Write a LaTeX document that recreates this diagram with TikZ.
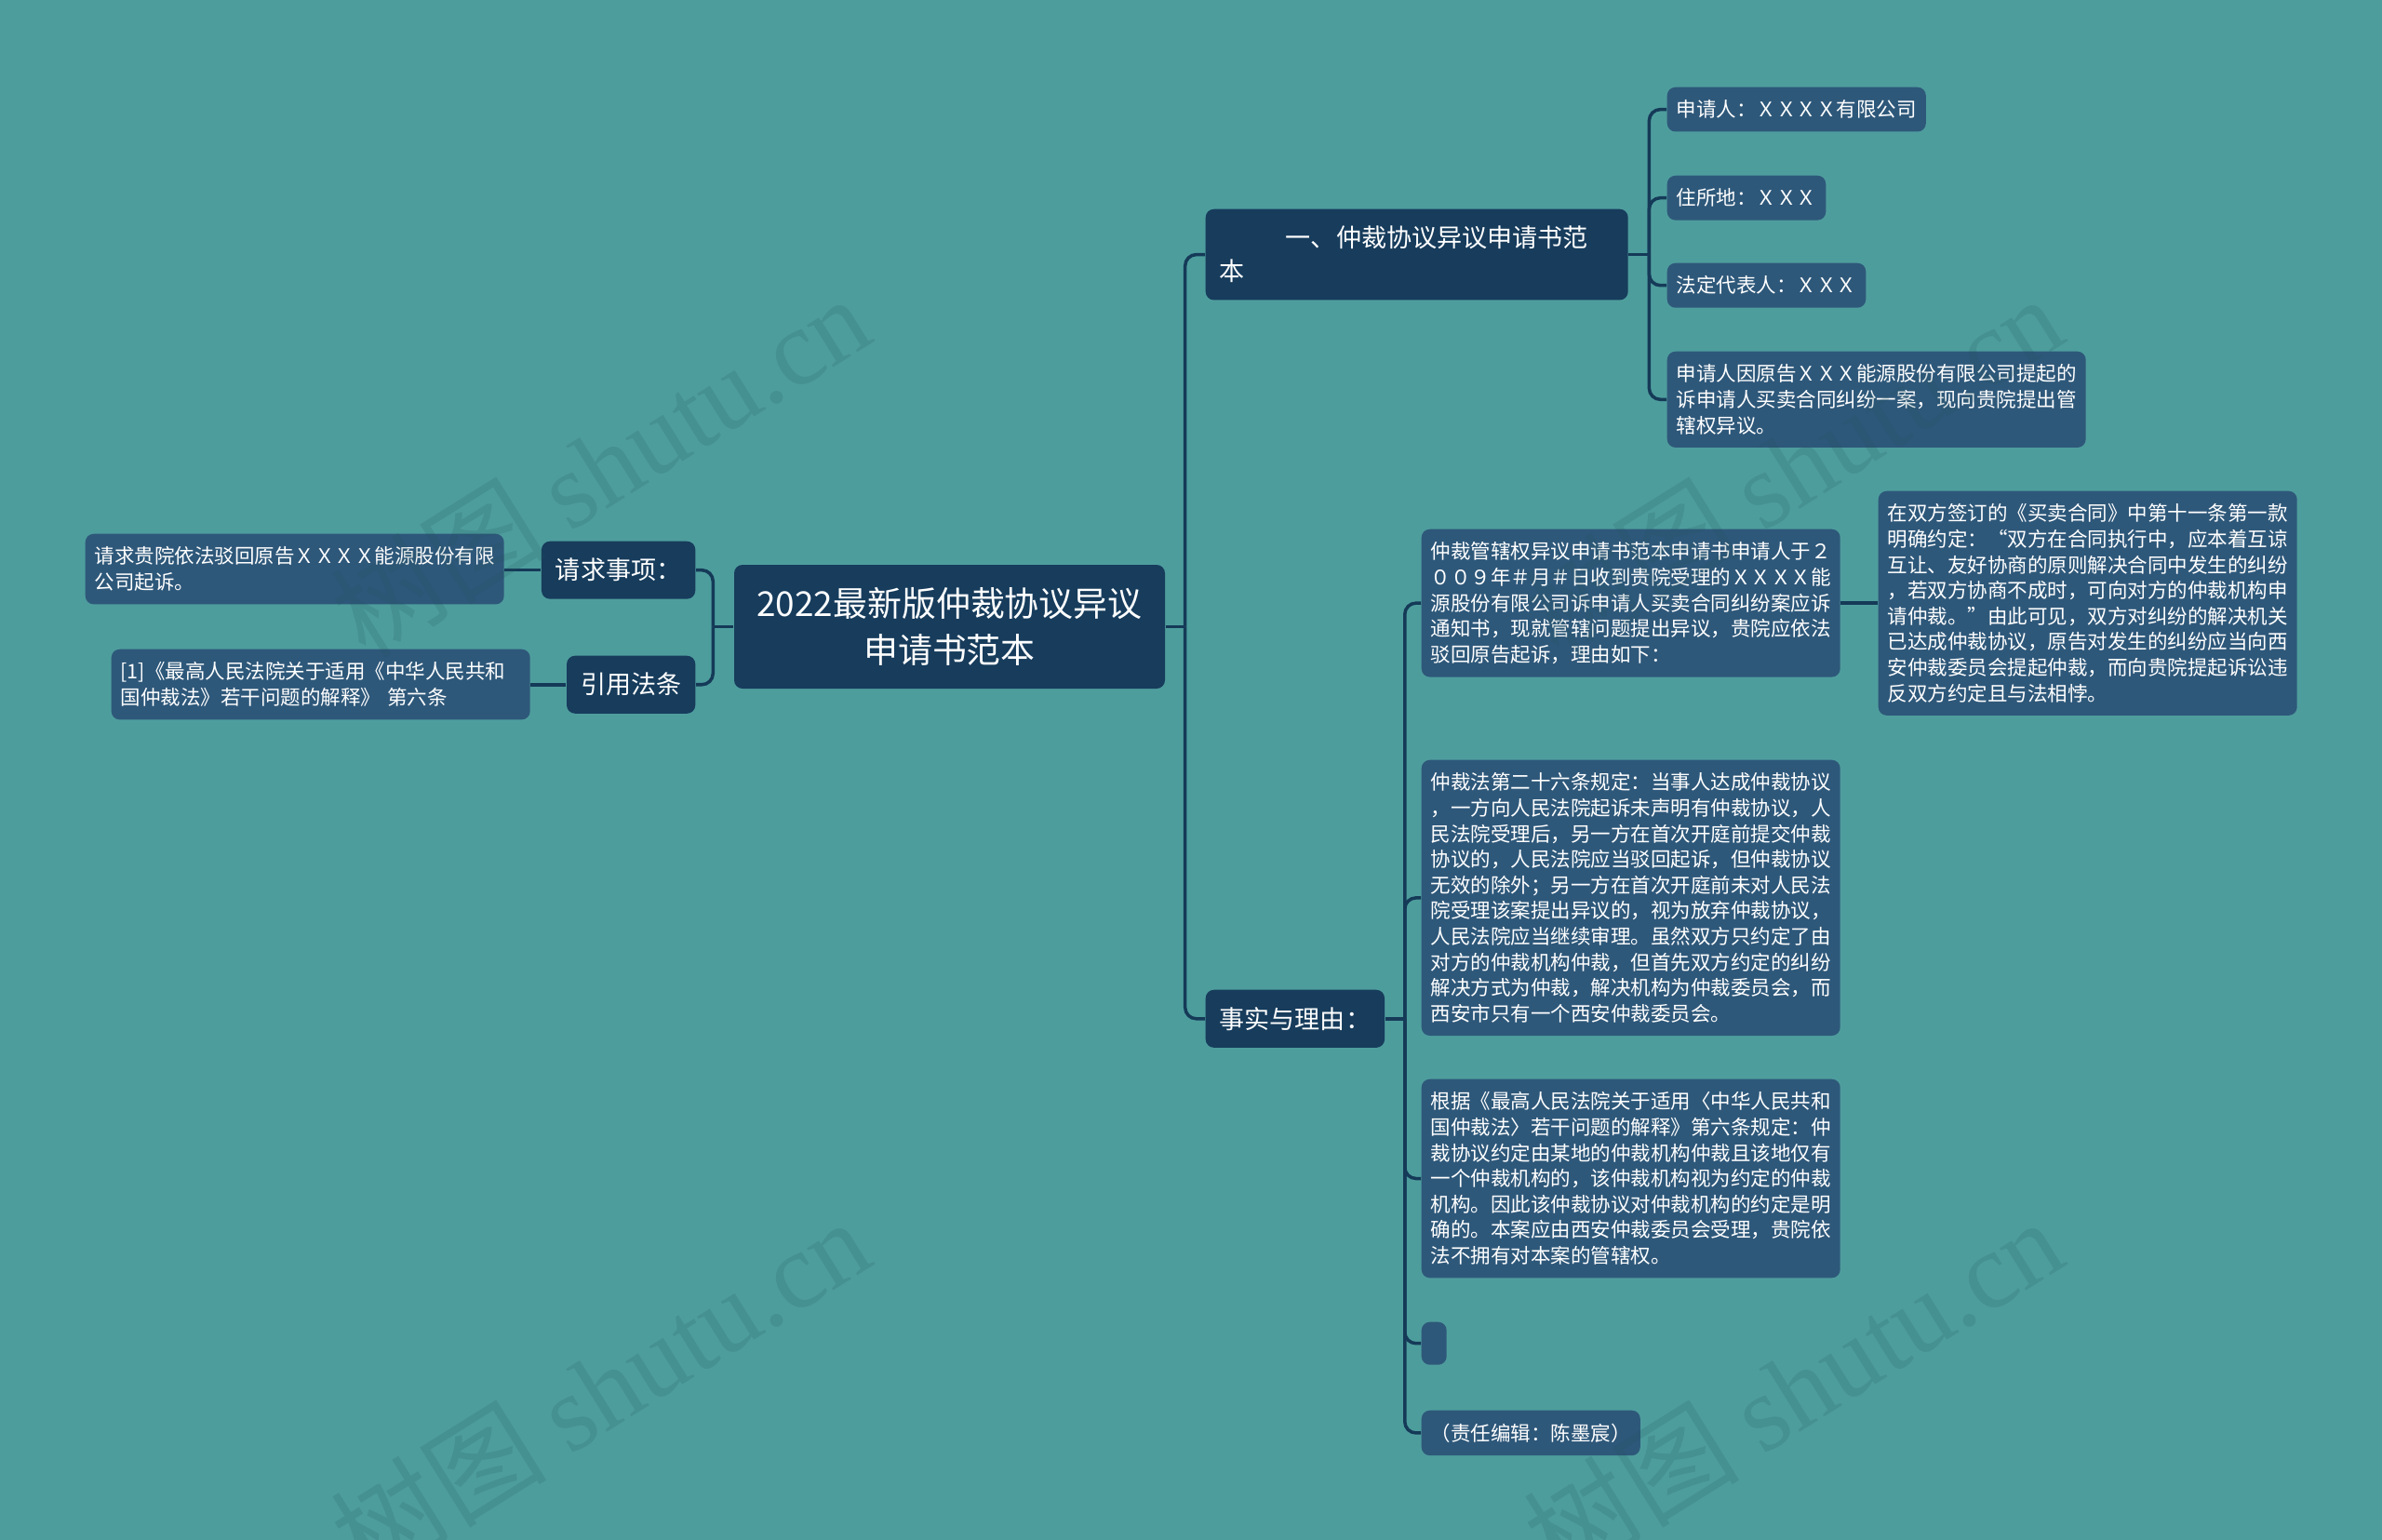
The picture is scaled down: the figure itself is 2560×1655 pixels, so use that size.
\documentclass[tikz,border=0pt]{standalone}
\usepackage{fontspec}
\setmainfont{Noto Sans CJK SC}
\newfontfamily\wmfont{Liberation Serif}
\usepackage{tikz}

\definecolor{bgc}{RGB}{78,157,157}
\definecolor{rootc}{RGB}{23,60,92}
\definecolor{leafc}{RGB}{46,88,122}
\definecolor{linec}{RGB}{21,58,88}
\definecolor{wmc}{RGB}{30,80,90}

\newcommand\rootfont{\fontsize{10.5pt}{14.4pt}\selectfont}
\newcommand\brfont{\fontsize{7.7pt}{10.2pt}\selectfont}
\newcommand\leaffont{\fontsize{6.12pt}{7.85pt}\selectfont}

\begin{document}
\begin{tikzpicture}[x=0.1mm, y=-0.1mm,
  box/.style={text=white, rounded corners=0.9mm, align=left},
  rootbox/.style={box, fill=rootc, font=\rootfont, align=center, minimum width=46.3mm, minimum height=13.3mm, inner sep=0pt},
  branch/.style={box, fill=rootc, font=\brfont, inner xsep=1.5mm, inner ysep=1.85mm, anchor=north west},
  leaf/.style={box, fill=leafc, font=\leaffont, inner xsep=1mm, inner ysep=1.4mm, anchor=north west},
  link/.style={draw=linec, line width=1pt, rounded corners=1.2mm},
  wmark/.style={rotate=32, text=wmc, text opacity=0.17, font=\fontsize{33pt}{33pt}\selectfont}]
	%Fondo
	\path[use as bounding box, fill=bgc] (0,0) rectangle (2560,1655);

	%Centro
	\node[rootbox] (root) at (1020.5,673.5) {2022最新版仲裁协议异议\\申请书范本};

	%Ramas
	\node[branch, text width=42.4mm] (fanben) at (1295,224) {\hspace*{2.63em}一、仲裁协议异议申请书范\\本};
	\node[branch] (liyou) at (1295,1063) {事实与理由：};
	\node[branch, anchor=north east] (qingqiu) at (748,581) {请求事项：};
	\node[branch, anchor=north east] (fatiao) at (748,704) {引用法条};

	%Hojas rama 1
	\node[leaf] (shenqingren) at (1791,93) {申请人：ＸＸＸＸ有限公司};
	\node[leaf] (zhusuo) at (1791,188) {住所地：ＸＸＸ};
	\node[leaf] (daibiao) at (1791,282) {法定代表人：ＸＸＸ};
	\node[leaf, text width=43mm] (yiyi) at (1791,377) {申请人因原告ＸＸＸ能源股份有限公司提起的\\诉申请人买卖合同纠纷一案，现向贵院提出管\\辖权异议。};

	%Hojas rama 2
	\node[leaf, text width=43mm] (guanxia) at (1527,568) {仲裁管辖权异议申请书范本申请书申请人于２\\００９年＃月＃日收到贵院受理的ＸＸＸＸ能\\源股份有限公司诉申请人买卖合同纠纷案应诉\\通知书，现就管辖问题提出异议，贵院应依法\\驳回原告起诉，理由如下：};
	\node[leaf, text width=43mm] (yueding) at (2018,527) {在双方签订的《买卖合同》中第十一条第一款\\明确约定：“双方在合同执行中，应本着互谅\\互让、友好协商的原则解决合同中发生的纠纷\\，若双方协商不成时，可向对方的仲裁机构申\\请仲裁。”由此可见，双方对纠纷的解决机关\\已达成仲裁协议，原告对发生的纠纷应当向西\\安仲裁委员会提起仲裁，而向贵院提起诉讼违\\反双方约定且与法相悖。};
	\node[leaf, text width=43mm] (tiaokuan) at (1527,816) {仲裁法第二十六条规定：当事人达成仲裁协议\\，一方向人民法院起诉未声明有仲裁协议，人\\民法院受理后，另一方在首次开庭前提交仲裁\\协议的，人民法院应当驳回起诉，但仲裁协议\\无效的除外；另一方在首次开庭前未对人民法\\院受理该案提出异议的，视为放弃仲裁协议，\\人民法院应当继续审理。虽然双方只约定了由\\对方的仲裁机构仲裁，但首先双方约定的纠纷\\解决方式为仲裁，解决机构为仲裁委员会，而\\西安市只有一个西安仲裁委员会。};
	\node[leaf, text width=43mm] (jieshi) at (1527,1159) {根据《最高人民法院关于适用〈中华人民共和\\国仲裁法〉若干问题的解释》第六条规定：仲\\裁协议约定由某地的仲裁机构仲裁且该地仅有\\一个仲裁机构的，该仲裁机构视为约定的仲裁\\机构。因此该仲裁协议对仲裁机构的约定是明\\确的。本案应由西安仲裁委员会受理，贵院依\\法不拥有对本案的管辖权。};
	\node[leaf, minimum width=2.7mm, minimum height=4.6mm, inner sep=0pt] (vacio) at (1527,1420) {};
	\node[leaf] (bianji) at (1527,1515) {（责任编辑：陈墨宸）};

	%Hojas izquierda
	\node[leaf, text width=43mm] (bohui) at (91,573) {请求贵院依法驳回原告ＸＸＸＸ能源股份有限\\公司起诉。};
	\node[leaf, text width=43mm] (yinyong) at (119,697) {[1]《最高人民法院关于适用《中华人民共和\\国仲裁法》若干问题的解释》 第六条};

	%Conectores
	\coordinate (jr) at ([xshift=2.1mm]root.east);
	\coordinate (jl) at ([xshift=-2.2mm]root.west);
	\coordinate (j1) at ([xshift=2.2mm]fanben.east);
	\coordinate (j2) at ([xshift=2.1mm]liyou.east);
	\draw[link] (root.east) -- (jr);
	\draw[link] (root.west) -- (jl);
	\draw[link] (fanben.east) -- (j1);
	\draw[link] (liyou.east) -- (j2);
	\foreach \n in {fanben,liyou} \draw[link] (jr) |- (\n.west);
	\foreach \n in {qingqiu,fatiao} \draw[link] (jl) |- (\n.east);
	\foreach \n in {shenqingren,zhusuo,daibiao,yiyi} \draw[link] (j1) |- (\n.west);
	\foreach \n in {guanxia,tiaokuan,jieshi,vacio,bianji} \draw[link] (j2) |- (\n.west);
	\draw[link] (guanxia.east) -- (guanxia.east -| yueding.west);
	\draw[link] (qingqiu.west) -- (qingqiu.west -| bohui.east);
	\draw[link] (fatiao.west) -- (fatiao.west -| yinyong.east);

	%Marca de agua
	\foreach \x/\y [count=\i] in {645/500, 1927/500, 645/1492, 1927/1492}
		\node[wmark] (wm\i) at (\x,\y) {树图 {\wmfont shutu.cn}};
\end{tikzpicture}
\end{document}
